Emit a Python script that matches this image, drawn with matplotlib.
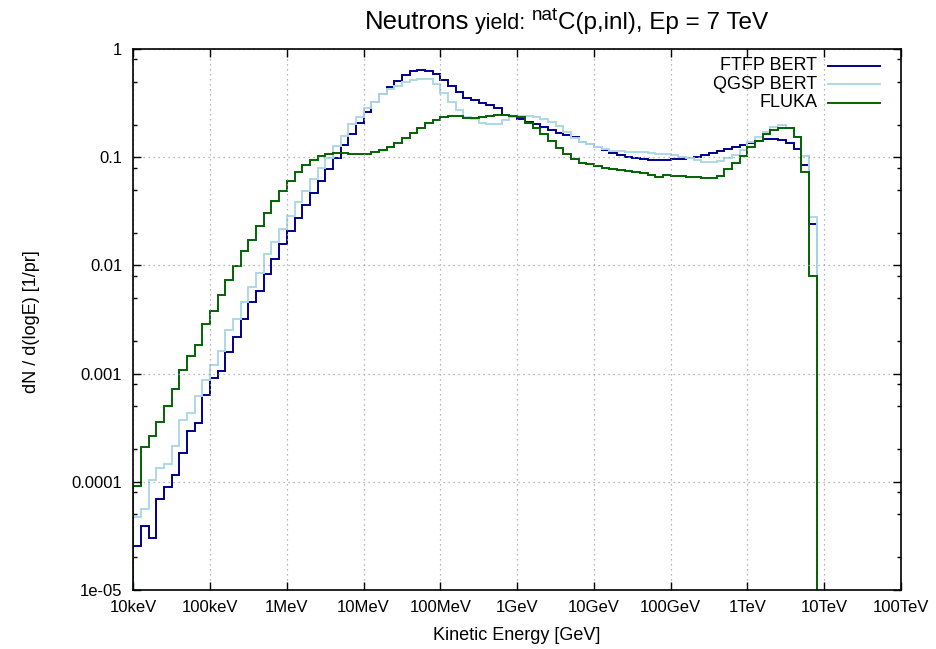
import numpy as np
import matplotlib
matplotlib.use("Agg")
import matplotlib.pyplot as plt
from matplotlib.ticker import FixedLocator, FixedFormatter, LogLocator, NullFormatter, NullLocator

# ---- data -------------------------------------------------------------
# bin edges: 10 bins per decade, from 10 keV (1e-5 GeV) to 10^3.9 GeV
log_edge_start = -5.0
log_edge_step = 0.1

ftfp_bert = [
    2.57e-5, 3.88e-5, 3.03e-5, 6.95e-5, 9.0e-5, 1.16e-4, 1.86e-4, 2.93e-4, 3.52e-4, 6.3e-4,
    9.2e-4, 1.06e-3, 1.57e-3, 2.17e-3, 3.19e-3, 4.56e-3, 5.75e-3, 8.36e-3, 1.14e-2, 1.57e-2,
    2.10e-2, 2.77e-2, 3.60e-2, 4.65e-2, 6.04e-2, 7.80e-2, 9.8e-2, 0.129, 0.165, 0.209,
    0.260, 0.326, 0.381, 0.446, 0.507, 0.575, 0.627, 0.640, 0.630, 0.588,
    0.517, 0.458, 0.398, 0.355, 0.338, 0.319, 0.304, 0.285, 0.246, 0.237,
    0.226, 0.213, 0.203, 0.192, 0.179, 0.166, 0.160, 0.153, 0.139, 0.132,
    0.125, 0.117, 0.110, 0.105, 0.101, 0.098, 0.096, 0.094, 0.094, 0.094,
    0.096, 0.096, 0.098, 0.101, 0.105, 0.110, 0.115, 0.119, 0.124, 0.130,
    0.135, 0.141, 0.148, 0.148, 0.145, 0.136, 0.119, 0.085, 0.0242,
]

qgsp_bert = [
    4.74e-5, 5.6e-5, 1.03e-4, 1.33e-4, 1.47e-4, 2.13e-4, 3.7e-4, 4.35e-4, 6.25e-4, 8.8e-4,
    1.20e-3, 1.62e-3, 2.52e-3, 3.2e-3, 4.55e-3, 6.38e-3, 8.49e-3, 1.28e-2, 1.66e-2, 2.19e-2,
    2.87e-2, 3.84e-2, 4.92e-2, 6.35e-2, 7.9e-2, 0.099, 0.127, 0.156, 0.203, 0.237,
    0.283, 0.326, 0.381, 0.425, 0.455, 0.492, 0.514, 0.528, 0.525, 0.475,
    0.390, 0.326, 0.273, 0.237, 0.226, 0.209, 0.201, 0.203, 0.221, 0.234,
    0.242, 0.242, 0.237, 0.226, 0.213, 0.195, 0.172, 0.152, 0.139, 0.132,
    0.125, 0.119, 0.114, 0.113, 0.112, 0.112, 0.111, 0.110, 0.108, 0.107,
    0.105, 0.100, 0.098, 0.094, 0.091, 0.090, 0.093, 0.098, 0.105, 0.117,
    0.137, 0.155, 0.172, 0.192, 0.199, 0.188, 0.153, 0.103, 0.0283,
]

fluka = [
    9.1e-5, 2.08e-4, 2.67e-4, 3.55e-4, 4.98e-4, 7.2e-4, 1.09e-3, 1.46e-3, 1.85e-3, 2.89e-3,
    3.81e-3, 5.35e-3, 7.4e-3, 9.8e-3, 1.35e-2, 1.71e-2, 2.31e-2, 3.04e-2, 3.95e-2, 4.92e-2,
    6.08e-2, 7.36e-2, 8.49e-2, 9.44e-2, 0.103, 0.106, 0.110, 0.109, 0.108, 0.107,
    0.108, 0.111, 0.117, 0.124, 0.135, 0.150, 0.169, 0.188, 0.206, 0.222,
    0.236, 0.239, 0.238, 0.232, 0.229, 0.233, 0.239, 0.246, 0.248, 0.241,
    0.234, 0.209, 0.185, 0.163, 0.140, 0.121, 0.107, 0.0965, 0.089, 0.086,
    0.083, 0.080, 0.078, 0.0764, 0.0747, 0.0726, 0.0715, 0.069, 0.066, 0.068,
    0.0676, 0.067, 0.066, 0.065, 0.0648, 0.0648, 0.067, 0.0775, 0.089, 0.103,
    0.124, 0.141, 0.163, 0.179, 0.188, 0.186, 0.153, 0.0736, 0.0079,
]

series_labels = ["FTFP BERT", "QGSP BERT", "FLUKA"]
series_colors = ["#00008b", "#add8e6", "#006400"]

x_tick_values = [1e-5, 1e-4, 1e-3, 1e-2, 1e-1, 1, 10, 100, 1e3, 1e4, 1e5]
x_tick_labels = ["10keV", "100keV", "1MeV", "10MeV", "100MeV", "1GeV", "10GeV",
                 "100GeV", "1TeV", "10TeV", "100TeV"]
y_tick_values = [1e-5, 1e-4, 1e-3, 1e-2, 1e-1, 1]
y_tick_labels = ["1e-05", "0.0001", "0.001", "0.01", "0.1", "1"]

# ---- figure -----------------------------------------------------------
plt.rcParams['font.family'] = ['Liberation Sans', 'DejaVu Sans']

W, H = 937, 649
fig = plt.figure(figsize=(W / 100, H / 100), dpi=100)
x0, x1, y0, y1 = 133.3, 901.0, 49.0, 590.0
ax = fig.add_axes([x0 / W, 1 - y1 / H, (x1 - x0) / W, (y1 - y0) / H])

n_bins = len(ftfp_bert)
edges = 10 ** (log_edge_start + log_edge_step * np.arange(n_bins + 1))

ymin, ymax = 1e-5, 1.0
for vals, lab, col in zip([ftfp_bert, qgsp_bert, fluka], series_labels, series_colors):
    ax.stairs(vals, edges, baseline=ymin * 1e-3, fill=False, color=col, lw=1.4,
              label=lab)

ax.set_xscale('log')
ax.set_yscale('log')
ax.set_xlim(1e-5, 1e5)
ax.set_ylim(ymin, ymax)

ax.xaxis.set_major_locator(FixedLocator(x_tick_values))
ax.xaxis.set_major_formatter(FixedFormatter(x_tick_labels))
ax.xaxis.set_minor_locator(NullLocator())
ax.yaxis.set_major_locator(FixedLocator(y_tick_values))
ax.yaxis.set_major_formatter(FixedFormatter(y_tick_labels))
ax.yaxis.set_minor_locator(LogLocator(base=10, subs=(2, 5, 8)))
ax.yaxis.set_minor_formatter(NullFormatter())

ax.tick_params(which='major', direction='in', length=6, width=1.0, top=True, right=True,
               labelsize=12, pad=8)
ax.tick_params(which='minor', direction='in', length=3, width=1.0, top=True, right=True)
ax.tick_params(axis='x', which='major', pad=7)

ax.grid(True, which='major', color='#a0a0a0', linestyle=(0, (1, 3)), lw=0.9)
for s in ax.spines.values():
    s.set_linewidth(1.2)

# legend drawn manually (right-aligned labels, sample to the right)
leg_rows = [0.9686, 0.9347, 0.9007]
for lab, col, yy in zip(series_labels, series_colors, leg_rows):
    ax.text(0.8906, yy, lab, transform=ax.transAxes, ha='right', va='center', fontsize=13)
    ax.plot([0.905, 0.9727], [yy, yy], transform=ax.transAxes, color=col, lw=1.4)

fig.text(517 / W, 1 - 635 / H, "Kinetic Energy [GeV]", ha='center', va='center', fontsize=13)
fig.text(32 / W, 1 - 322 / H, "dN / d(logE) [1/pr]", ha='center', va='center',
         rotation=90, fontsize=13)

# title in pieces
renderer = fig.canvas.get_renderer()
base_y = 1 - 29 / H
xpos = 365
pieces = [("Neutrons", 18.5, 0), (" yield: ", 15.5, 0), ("nat", 13.5, 9), ("C(p,inl), Ep = 7 TeV", 17.5, 0)]
for txt, fs, dy in pieces:
    t = fig.text(xpos / W, base_y + dy / H, txt, ha='left', va='baseline', fontsize=fs)
    bb = t.get_window_extent(renderer=renderer)
    xpos += bb.width

fig.savefig("out.png", dpi=100)
